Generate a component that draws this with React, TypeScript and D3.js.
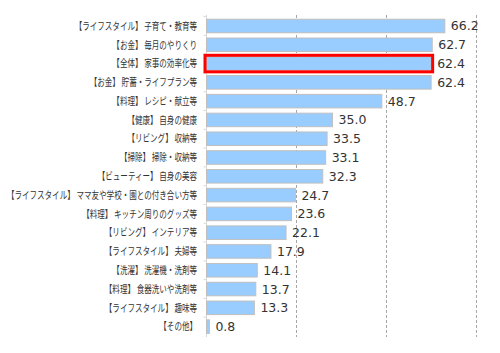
import React from "react";
import * as d3 from "d3";

const categories = [
  "【ライフスタイル】 子育て・教育等",
  "【お金】 毎月のやりくり",
  "【全体】 家事の効率化等",
  "【お金】 貯蓄・ライフプラン等",
  "【料理】 レシピ・献立等",
  "【健康】 自身の健康",
  "【リビング】 収納等",
  "【掃除】 掃除・収納等",
  "【ビューティー】 自身の美容",
  "【ライフスタイル】 ママ友や学校・園との付き合い方等",
  "【料理】 キッチン周りのグッズ等",
  "【リビング】 インテリア等",
  "【ライフスタイル】 夫婦等",
  "【洗濯】 洗濯機・洗剤等",
  "【料理】 食器洗いや洗剤等",
  "【ライフスタイル】 趣味等",
  "【その他】",
];
const values = [66.2, 62.7, 62.4, 62.4, 48.7, 35.0, 33.5, 33.1, 32.3, 24.7, 23.6, 22.1, 17.9, 14.1, 13.7, 13.3, 0.8];
const gridTicks = [25, 50, 75];
const highlightIndex = 2;

export default function App() {
  const x = d3.scaleLinear().domain([0, 75]).range([206.5, 476.5]);
  const y = d3.scaleBand<number>().domain(d3.range(categories.length)).range([16.6, 336]).paddingInner(0.28).paddingOuter(0.14);
  const yTop = 15;
  const yBot = 337;
  const labelX = 197;
  const sx = 0.72;
  return (
    <svg width={500} height={353} style={{ position: "absolute", left: 0, top: 0 }}>
      <rect width={500} height={353} fill="#fff" />
      {gridTicks.map((t) => (
        <line key={t} x1={x(t)} x2={x(t)} y1={yTop} y2={yBot} stroke="#a6a6a6" strokeWidth={1} strokeDasharray="3,2" />
      ))}
      <line x1={x(0)} x2={x(0)} y1={yTop} y2={yBot} stroke="#d9d9d9" strokeWidth={1} />
      {categories.map((c, i) => (
        <line key={"t" + i} x1={x(0) - 3} x2={x(0)} y1={y(i)! - y.step() * 0.14} y2={y(i)! - y.step() * 0.14} stroke="#d9d9d9" />
      ))}
      {values.map((v, i) => (
        <rect key={i} x={x(0)} y={y(i)} width={x(v) - x(0)} height={y.bandwidth()} fill="#99ccff" stroke="#bfbfbf" strokeWidth={1} />
      ))}
      <rect
        x={x(0) - 1.5}
        y={y(highlightIndex)! - 1.5}
        width={x(values[highlightIndex]) - x(0) + 3}
        height={y.bandwidth() + 3}
        fill="none"
        stroke="#ff0000"
        strokeWidth={3}
      />
      {values.map((v, i) => (
        <text key={"v" + i} x={x(v) + 6} y={y(i)! + y.bandwidth() / 2} dy="0.36em" fontFamily="'DejaVu Sans', Verdana, sans-serif" fontSize={12.5} fill="#333">
          {v.toFixed(1)}
        </text>
      ))}
      <g transform={`translate(${labelX},0) scale(${sx},1)`}>
        {categories.map((c, i) => (
          <text key={"c" + i} x={0} y={y(i)! + y.bandwidth() / 2} dy="0.36em" textAnchor="end" fontFamily="'Noto Sans CJK JP', sans-serif" fontSize={10.5} fill="#333">
            {c}
          </text>
        ))}
      </g>
    </svg>
  );
}
